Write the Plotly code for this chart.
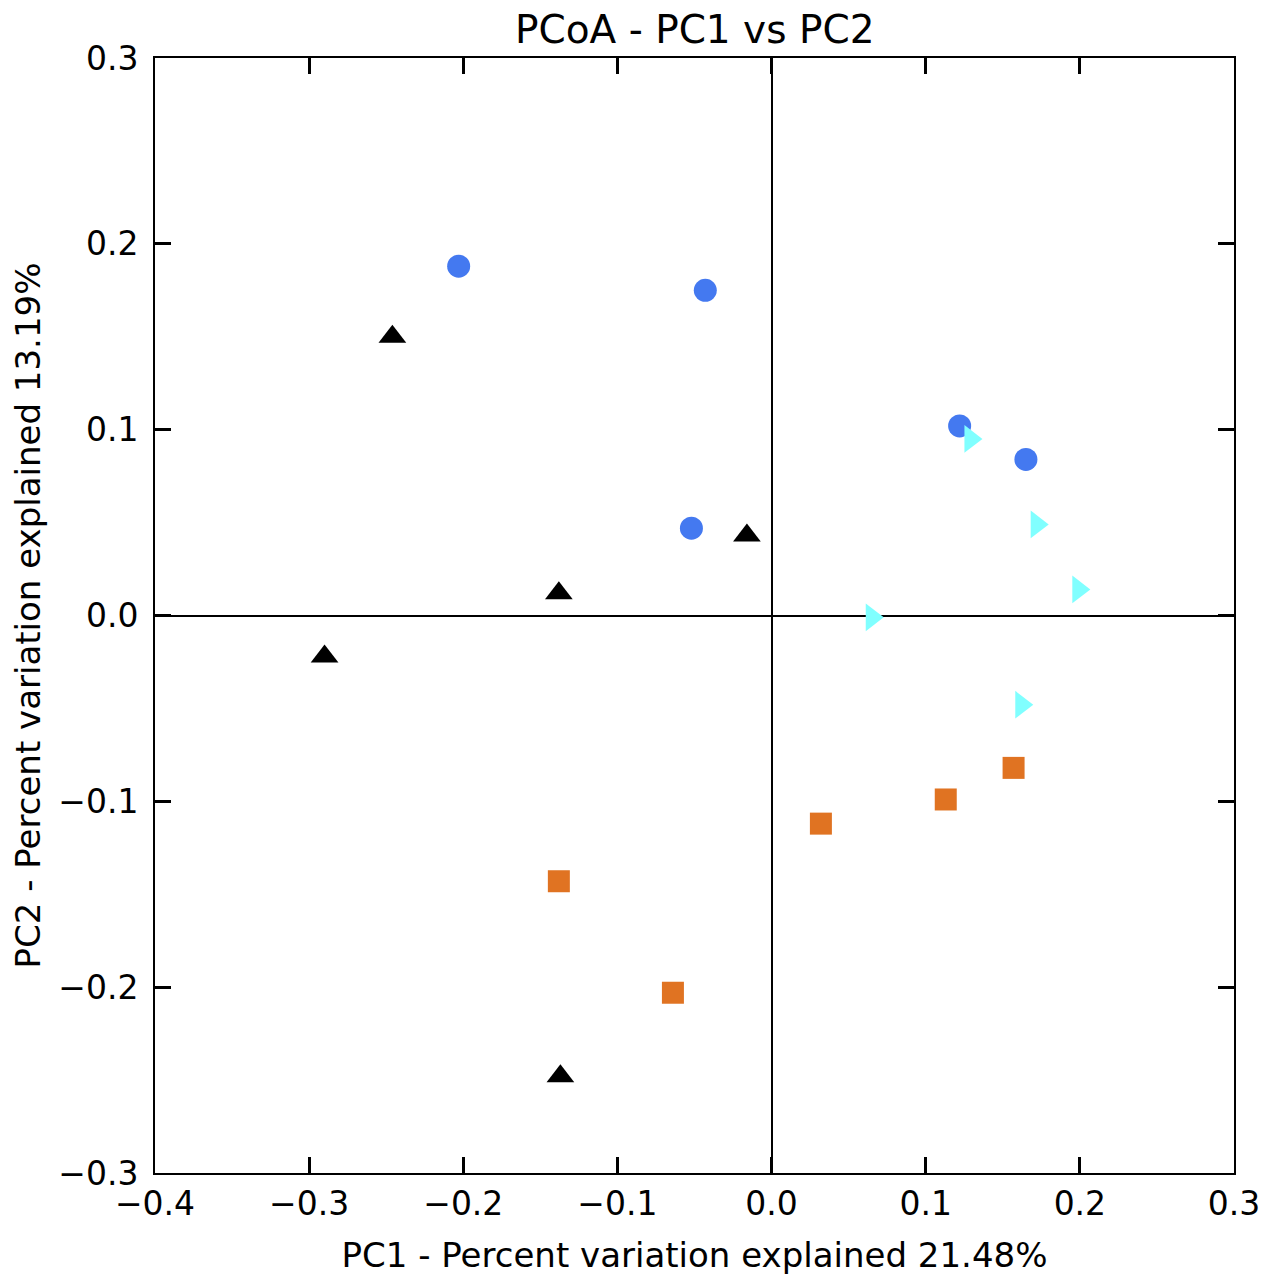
import plotly.graph_objects as go

# PCoA coordinates, one group per marker style
blue_pc1 = [-0.203, -0.043, 0.122, 0.165, -0.052]
blue_pc2 = [0.188, 0.175, 0.102, 0.084, 0.047]

black_pc1 = [-0.246, -0.016, -0.138, -0.290, -0.137]
black_pc2 = [0.150, 0.043, 0.012, -0.022, -0.248]

cyan_pc1 = [0.129, 0.172, 0.199, 0.065, 0.162]
cyan_pc2 = [0.095, 0.049, 0.014, -0.001, -0.048]

orange_pc1 = [-0.138, -0.064, 0.032, 0.113, 0.157]
orange_pc2 = [-0.143, -0.203, -0.112, -0.099, -0.082]

x_ticks = [-0.4, -0.3, -0.2, -0.1, 0.0, 0.1, 0.2, 0.3]
y_ticks = [-0.3, -0.2, -0.1, 0.0, 0.1, 0.2, 0.3]

FONT = "DejaVu Sans"

fig = go.Figure()

# blue circles
fig.add_trace(go.Scatter(
    x=blue_pc1, y=blue_pc2, mode="markers",
    marker=dict(symbol="circle", size=23, color="#4479F0", line=dict(width=0)),
))

# black triangles
fig.add_trace(go.Scatter(
    x=black_pc1, y=black_pc2, mode="markers",
    marker=dict(symbol="triangle-up", size=24, color="#000000", line=dict(width=0)),
))

# cyan right triangles
fig.add_trace(go.Scatter(
    x=cyan_pc1, y=cyan_pc2, mode="markers",
    marker=dict(symbol="triangle-right", size=24, color="#80FFFF", line=dict(width=0)),
))

# orange squares
fig.add_trace(go.Scatter(
    x=orange_pc1, y=orange_pc2, mode="markers",
    marker=dict(symbol="square", size=22, color="#E07322", line=dict(width=0)),
))

axis_style = dict(
    showgrid=False, automargin=False,
    zeroline=True, zerolinecolor="black", zerolinewidth=2,
    showline=True, linecolor="black", linewidth=2, mirror="ticks",
    ticks="inside", ticklen=16, tickwidth=3, tickcolor="black",
    tickformat=".1f",
    tickfont=dict(family=FONT, size=33, color="black"),
)

fig.update_layout(
    width=1267, height=1284,
    margin=dict(l=147, r=41, t=50, b=119),
    plot_bgcolor="white", paper_bgcolor="white",
    showlegend=False,
    title=dict(text="PCoA - PC1 vs PC2", x=0.542, xanchor="center", y=0.983, yanchor="middle",
               font=dict(family=FONT, size=39, color="black")),
    xaxis=dict(axis_style, range=[-0.4, 0.3], tickvals=x_ticks,
               title=dict(text="PC1 - Percent variation explained 21.48%", standoff=22,
                          font=dict(family=FONT, size=34, color="black"))),
    yaxis=dict(axis_style, range=[-0.3, 0.3], tickvals=y_ticks, ticklabelstandoff=8,
               title=dict(text="PC2 - Percent variation explained 13.19%", standoff=24,
                          font=dict(family=FONT, size=34, color="black"))),
)

fig.write_html("out.html")
